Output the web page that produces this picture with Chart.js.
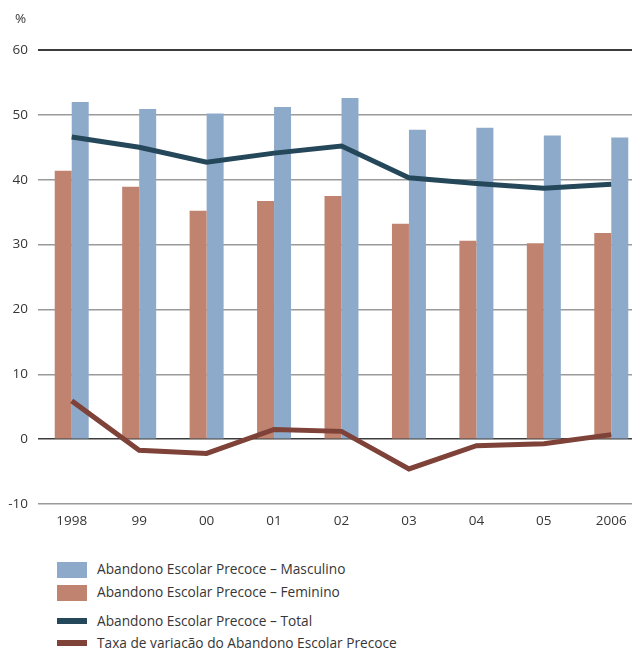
<!DOCTYPE html>
<html>
<head>
<meta charset="utf-8">
<script src="https://cdn.jsdelivr.net/npm/chart.js@4/dist/chart.umd.min.js"></script>
<style>
  html, body { margin: 0; padding: 0; background: #fff; overflow: hidden; width: 632px; height: 648px; }
  #wrap { position: absolute; left: 0; top: 0; width: 645px; height: 540px; }
  #legend { position: absolute; left: 57px; top: 0; font-family: "Open Sans", sans-serif; font-size: 13.7px; color: #363636; }
  .item { position: absolute; left: 0; white-space: nowrap; }
  .sw { position: absolute; left: 0; width: 30px; }
  .lbl { position: absolute; left: 40px; line-height: 16px; }
</style>
</head>
<body>
<div id="wrap"><canvas id="c"></canvas></div>
<div id="legend"></div>
<script>
// Abandono escolar precoce, Portugal, 1998–2006 (%)
const categories = ['1998', '99', '00', '01', '02', '03', '04', '05', '2006'];
const masculino  = [52.0, 50.9, 50.2, 51.2, 52.6, 47.7, 48.0, 46.8, 46.5];
const feminino   = [41.4, 38.9, 35.2, 36.7, 37.5, 33.2, 30.6, 30.2, 31.8];
const total      = [46.6, 45.0, 42.7, 44.1, 45.2, 40.3, 39.4, 38.7, 39.3];
const taxaVariacao = [5.9, -1.7, -2.2, 1.5, 1.2, -4.6, -1.0, -0.7, 0.7];
const yTicks = [-10, 0, 10, 20, 30, 40, 50, 60];

const labels = {
  masc: 'Abandono Escolar Precoce – Masculino',
  fem: 'Abandono Escolar Precoce – Feminino',
  tot: 'Abandono Escolar Precoce – Total',
  taxa: 'Taxa de variação do Abandono Escolar Precoce'
};
const colors = { masc: '#8eaaca', fem: '#bf836f', tot: '#24475a', taxa: '#7e4238' };

const FONT = '"Open Sans", sans-serif';

// "%" unit label above the value axis
const unitLabel = {
  id: 'unitLabel',
  afterDraw(chart) {
    const ctx = chart.ctx;
    ctx.save();
    ctx.font = '13.5px ' + FONT;
    ctx.fillStyle = '#363636';
    ctx.textAlign = 'left';
    ctx.textBaseline = 'middle';
    ctx.fillText('%', 15, 19);
    ctx.restore();
  }
};

const chart = new Chart(document.getElementById('c'), {
  type: 'bar',
  data: {
    labels: categories,
    datasets: [
      { type: 'line', label: labels.tot, data: total, borderColor: colors.tot, backgroundColor: colors.tot,
        borderWidth: 5, pointRadius: 0, tension: 0, borderCapStyle: 'butt', borderJoinStyle: 'miter', order: 0 },
      { type: 'line', label: labels.taxa, data: taxaVariacao, borderColor: colors.taxa, backgroundColor: colors.taxa,
        borderWidth: 5, pointRadius: 0, tension: 0, borderCapStyle: 'butt', borderJoinStyle: 'miter', order: 0 },
      { label: labels.fem, data: feminino, backgroundColor: colors.fem, order: 1,
        categoryPercentage: 0.504, barPercentage: 1.0 },
      { label: labels.masc, data: masculino, backgroundColor: colors.masc, order: 1,
        categoryPercentage: 0.504, barPercentage: 1.0 }
    ]
  },
  options: {
    responsive: true,
    maintainAspectRatio: false,
    animation: false,
    layout: { padding: { top: 50, right: 0, left: 0, bottom: 0 } },
    plugins: { legend: { display: false }, tooltip: { enabled: false } },
    scales: {
      x: {
        offset: true,
        grid: { display: false, drawTicks: false },
        border: { display: false },
        ticks: { color: '#363636', font: { family: FONT, size: 13.5 }, padding: 9, maxRotation: 0 },
        afterFit(scale) { scale.height = 36; }
      },
      y: {
        min: -10, max: 60,
        afterBuildTicks(scale) { scale.ticks = yTicks.map(v => ({ value: v })); },
        grid: {
          drawTicks: false,
          color: ctx => (ctx.tick && (ctx.tick.value === 60 || ctx.tick.value === 0)) ? '#3c3c3c' : '#9a9a9a',
          lineWidth: ctx => (ctx.tick && ctx.tick.value === 60) ? 2 : 1.5
        },
        border: { display: false },
        ticks: { color: '#363636', font: { family: FONT, size: 13.5 }, padding: 10 },
        afterFit(scale) { scale.width = 38; }
      }
    }
  },
  plugins: [unitLabel]
});

// Legend built from the chart's own datasets
const legendRows = [
  { key: 'masc', kind: 'box', top: 562 },
  { key: 'fem', kind: 'box', top: 585 },
  { key: 'tot', kind: 'line', top: 612 },
  { key: 'taxa', kind: 'line', top: 634 }
];
const legendEl = document.getElementById('legend');
legendRows.forEach(r => {
  const ds = chart.data.datasets.find(d => d.label === labels[r.key]);
  const item = document.createElement('div');
  item.className = 'item';
  item.style.top = r.top + 'px';
  const sw = document.createElement('div');
  sw.className = 'sw';
  sw.style.background = ds.type === 'line' ? ds.borderColor : ds.backgroundColor;
  if (r.kind === 'box') { sw.style.top = '0px'; sw.style.height = '16px'; }
  else { sw.style.top = '6px'; sw.style.height = '6px'; }
  const lbl = document.createElement('div');
  lbl.className = 'lbl';
  lbl.style.top = r.kind === 'box' ? '-1px' : '1px';
  lbl.textContent = ds.label;
  item.appendChild(sw);
  item.appendChild(lbl);
  legendEl.appendChild(item);
});
</script>
</body>
</html>
